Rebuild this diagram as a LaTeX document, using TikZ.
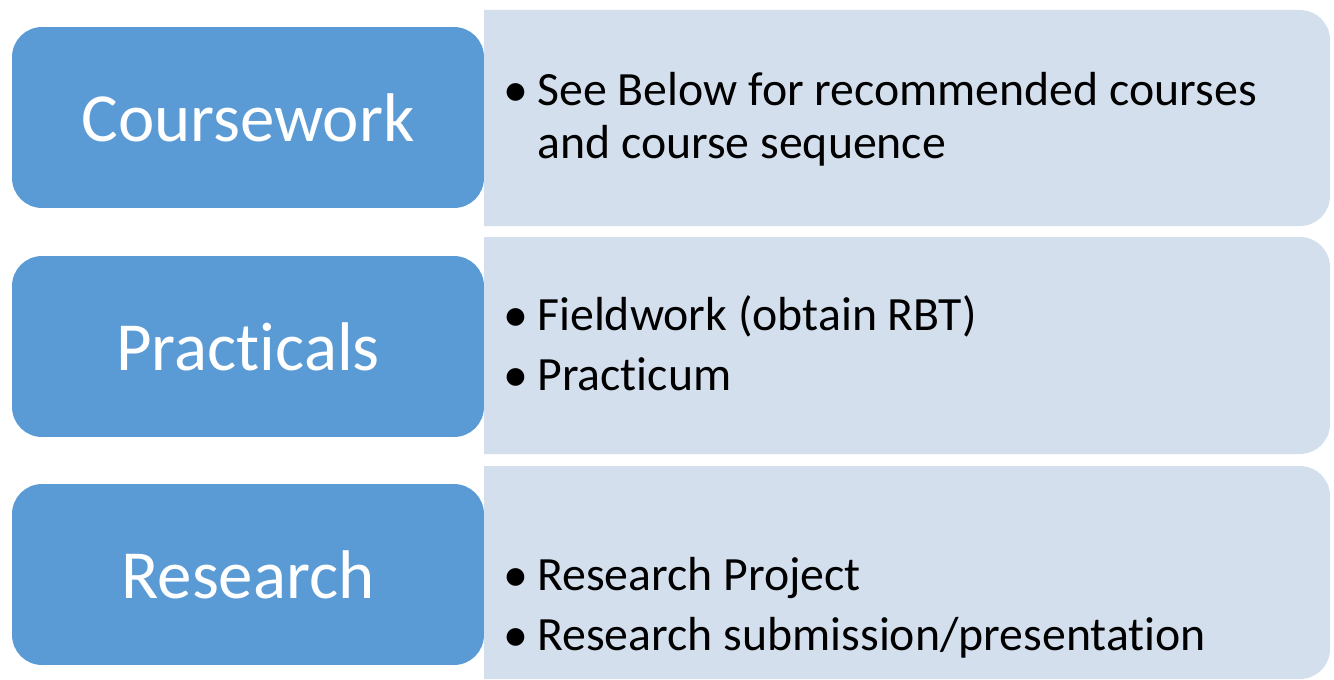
\documentclass[tikz,border=0pt]{standalone}
\usepackage{fontspec}
\setmainfont[Ligatures={NoCommon}]{Carlito}
\usetikzlibrary{positioning}

\definecolor{phaseblue}{HTML}{5B9BD5}
\definecolor{detailblue}{HTML}{D4DFEE}

\begin{document}
\begin{tikzpicture}[
  x=0.02cm, y=-0.02cm,
  phase/.style={fill=phaseblue, rounded corners=0.6cm, minimum width=9.44cm, minimum height=3.62cm,
    text=white, font=\fontsize{39.2}{41}\selectfont, inner sep=0pt},
  panel/.style={fill=detailblue},
  item/.style={anchor=base west, font=\fontsize{27.2}{30}\selectfont, inner sep=0pt},
  dot/.style={anchor=base west, font=\fontsize{28.5}{30}\selectfont, inner sep=0pt}
]
\useasboundingbox (0,0) rectangle (1334,679);

% Right-hand panels (square left edge, rounded right edge)
\fill[panel] (484,10) [rounded corners=0.6cm] -- (1330,10) -- (1330,226) [sharp corners] -- (484,226) -- cycle;
\fill[panel] (484,237) [rounded corners=0.6cm] -- (1330,237) -- (1330,454) [sharp corners] -- (484,454) -- cycle;
\fill[panel] (484,466) [rounded corners=0.6cm] -- (1330,466) -- (1330,679) [sharp corners] -- (484,679) -- cycle;

% Left-hand phases
\node[phase] (coursework) at (248,117.5) {Coursework};
\node[phase] (practicals) at (248,346.5) {Practicals};
\node[phase] (research) at (248,574.5) {Research};

% Items
\node[dot] (b1) at (503,107) {\textbullet};
\node[item] (see) at (537,106) {See Below for recommended courses};
\node[item] (seq) at (537,158) {and course sequence};

\node[dot] (b2) at (503,331) {\textbullet};
\node[item] (field) at (537,330) {Fieldwork (obtain RBT)};
\node[dot] (b3) at (503,391) {\textbullet};
\node[item] (pract) at (537,390) {Practicum};

\node[dot] (b4) at (503,591) {\textbullet};
\node[item] (proj) at (537,590) {Research Project};
\node[dot] (b5) at (503,651) {\textbullet};
\node[item] (subm) at (537,650) {Research submission/presentation};
\end{tikzpicture}
\end{document}
